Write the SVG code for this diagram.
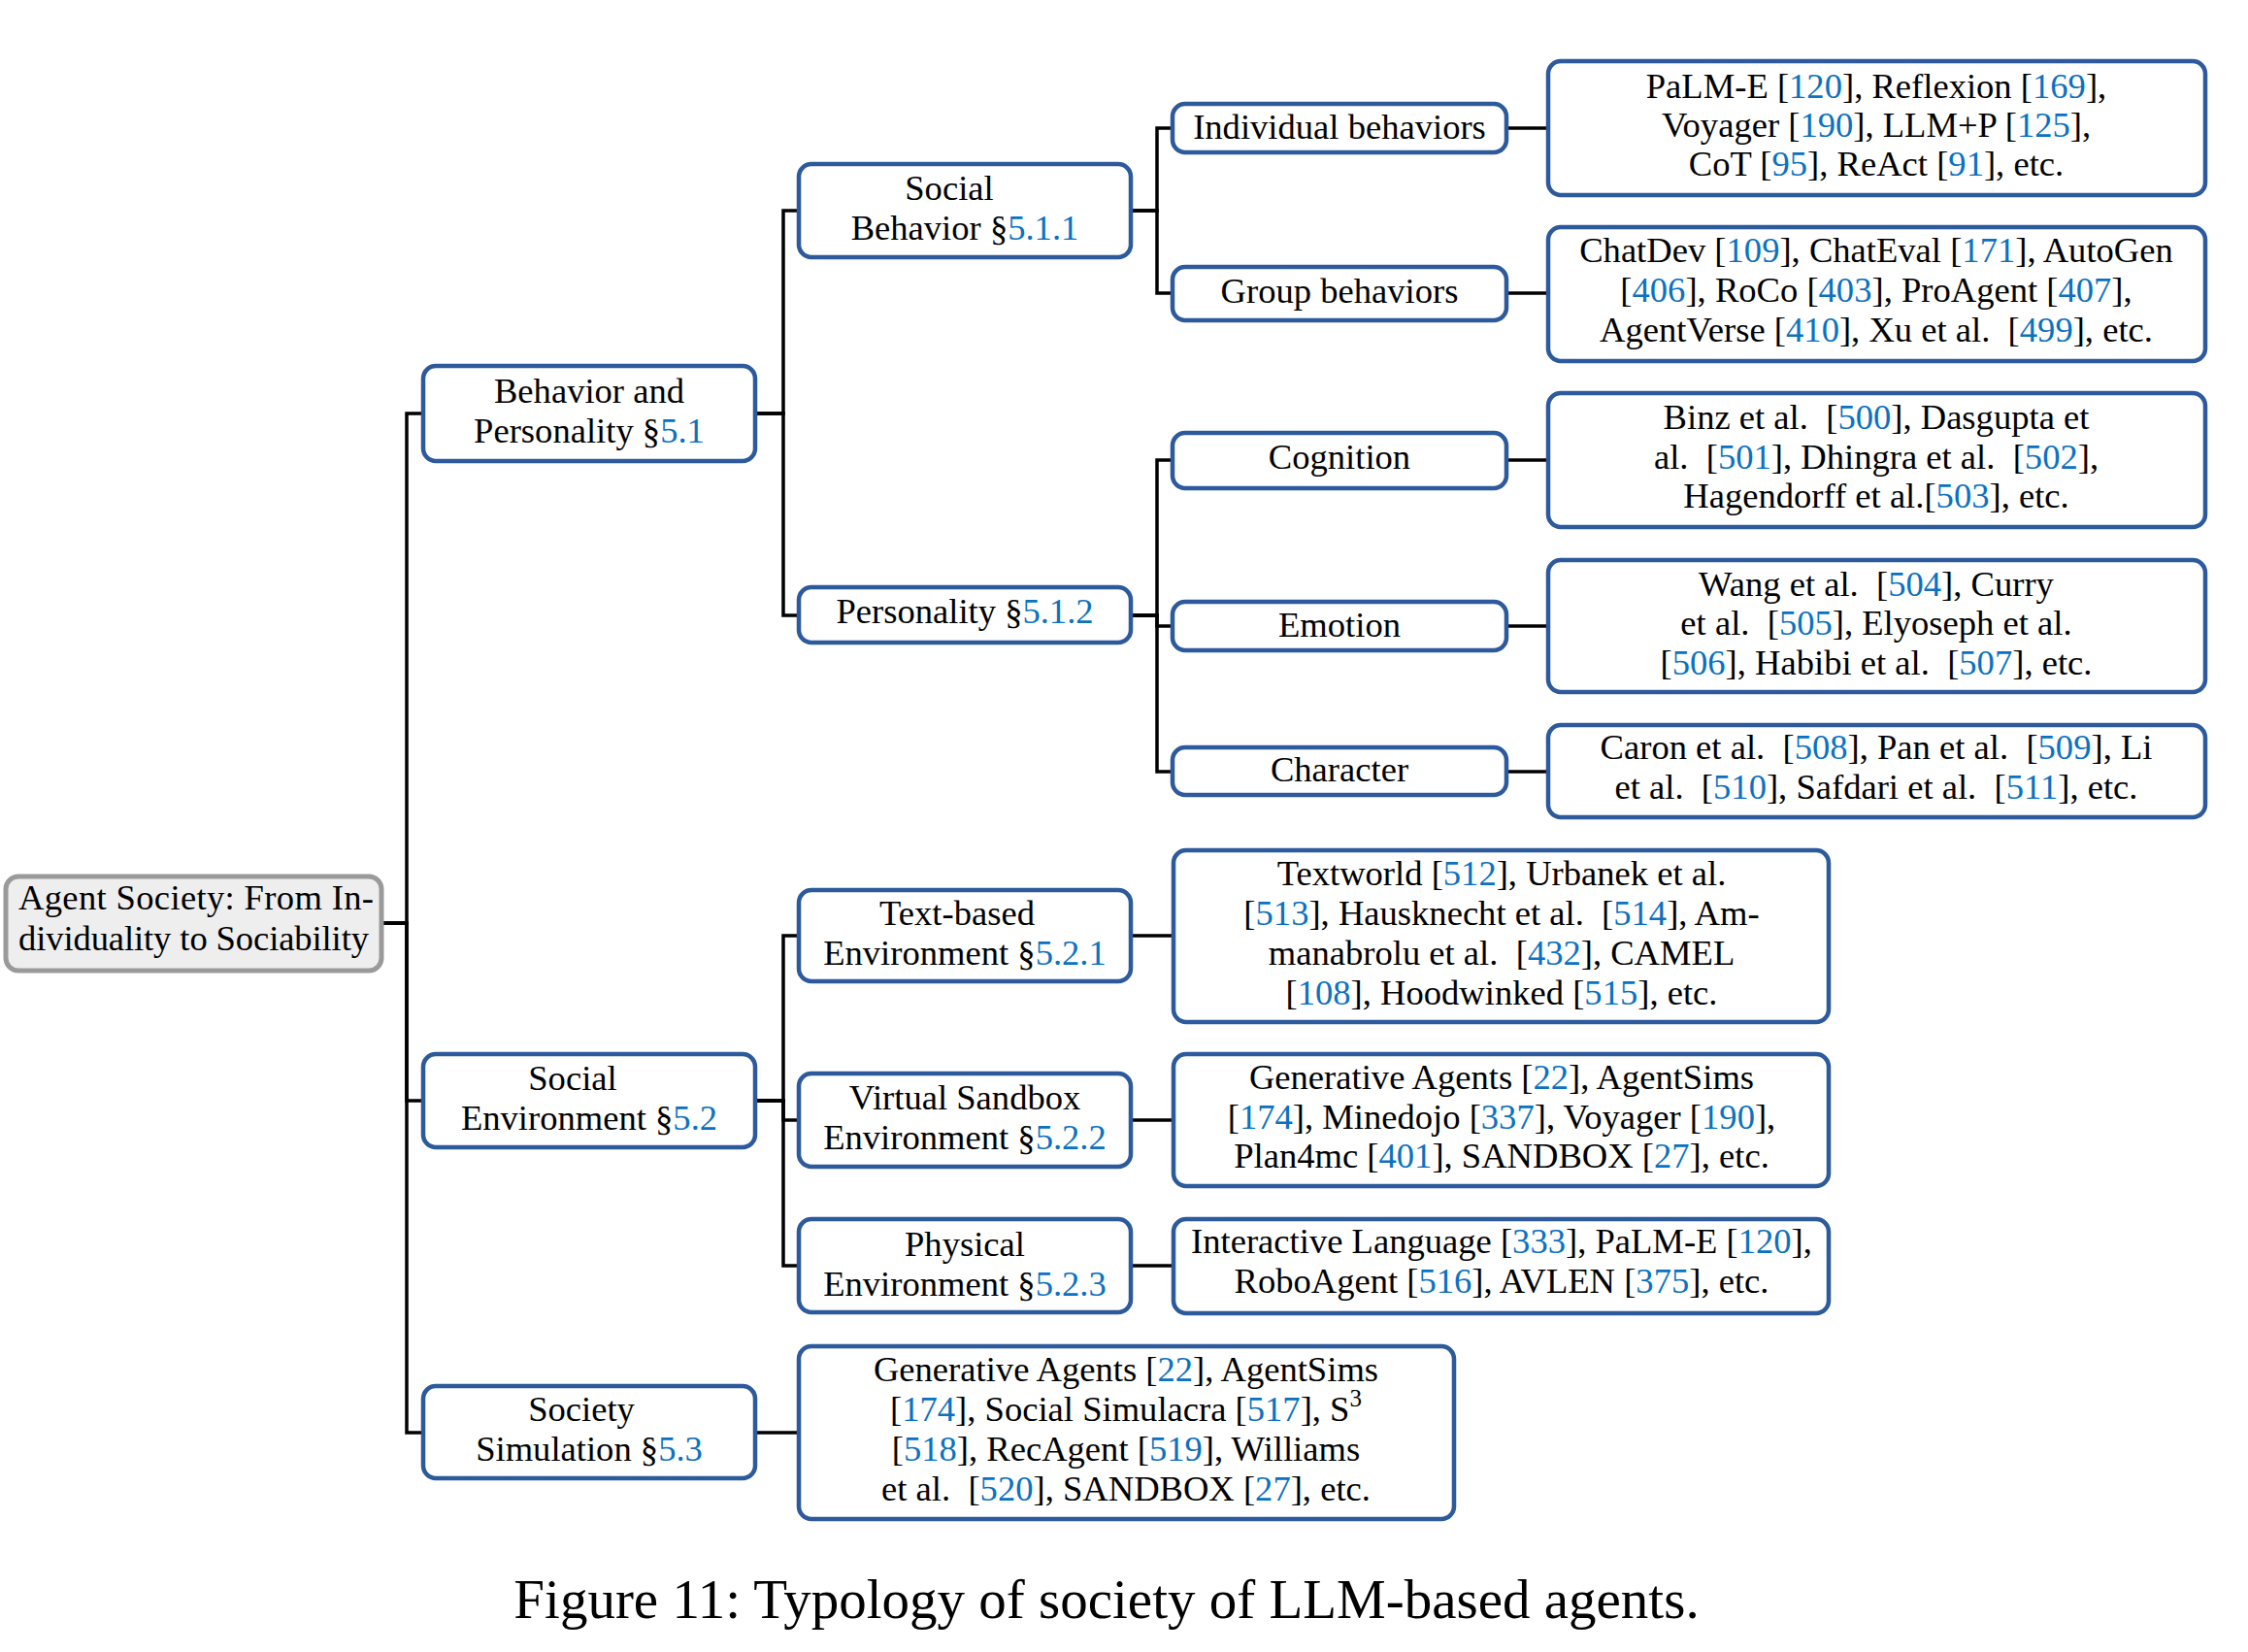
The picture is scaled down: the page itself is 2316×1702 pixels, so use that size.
<svg xmlns="http://www.w3.org/2000/svg" width="2316" height="1702" viewBox="0 0 2316 1702">
<style>
.t{font-family:"Liberation Serif","Times New Roman",serif;font-size:36.6px;fill:#000;text-anchor:middle}
.c{fill:#0a72c0}
.box{fill:#fff;stroke:#2c5a9c;stroke-width:4.5}
.root{fill:#eeeeee;stroke:#9a9a9a;stroke-width:5}
.conn{fill:none;stroke:#000;stroke-width:3.5;stroke-linejoin:miter}
.cap{font-family:"Liberation Serif","Times New Roman",serif;font-size:57px;fill:#000;text-anchor:middle}
</style>
<rect width="2316" height="1702" fill="#fff"/>
<g id="connectors">
<path class="conn" d="M393,951 H419 V426 H436"/>
<path class="conn" d="M393,951 H419 V1134 H436"/>
<path class="conn" d="M393,951 H419 V1476 H436"/>
<path class="conn" d="M778,426 H807 V217 H823"/>
<path class="conn" d="M778,426 H807 V634 H823"/>
<path class="conn" d="M778,1134 H807 V964 H823"/>
<path class="conn" d="M778,1134 H807 V1154 H823"/>
<path class="conn" d="M778,1134 H807 V1304 H823"/>
<path class="conn" d="M778,1476 H823"/>
<path class="conn" d="M1165,217 H1192 V132 H1208"/>
<path class="conn" d="M1165,217 H1192 V302 H1208"/>
<path class="conn" d="M1165,634 H1192 V474 H1208"/>
<path class="conn" d="M1165,634 H1192 V645 H1208"/>
<path class="conn" d="M1165,634 H1192 V795 H1208"/>
<path class="conn" d="M1552,132 H1595"/>
<path class="conn" d="M1552,302 H1595"/>
<path class="conn" d="M1552,474 H1595"/>
<path class="conn" d="M1552,645 H1595"/>
<path class="conn" d="M1552,795 H1595"/>
<path class="conn" d="M1165,964 H1209"/>
<path class="conn" d="M1165,1154 H1209"/>
<path class="conn" d="M1165,1304 H1209"/>
</g>
<g id="root">
<rect class="root" x="6" y="903" width="387" height="97" rx="13"/>
<text class="t" x="19" y="937" style="text-anchor:start" textLength="366" lengthAdjust="spacing">Agent Society: From In-</text>
<text class="t" x="19" y="979" style="text-anchor:start" textLength="361" lengthAdjust="spacing">dividuality to Sociability</text>
</g>
<g id="behavior-personality">
<rect class="box" x="436" y="377" width="342" height="98" rx="13"/>
<text class="t" x="607" y="415">Behavior and</text>
<text class="t" x="607" y="456">Personality §<tspan class="c">5.1</tspan></text>
</g>
<g id="social-environment">
<rect class="box" x="436" y="1086" width="342" height="96" rx="13"/>
<text class="t" x="590" y="1123">Social</text>
<text class="t" x="607" y="1164">Environment §<tspan class="c">5.2</tspan></text>
</g>
<g id="society-simulation">
<rect class="box" x="436" y="1428" width="342" height="95" rx="13"/>
<text class="t" x="599" y="1464">Society</text>
<text class="t" x="607" y="1505">Simulation §<tspan class="c">5.3</tspan></text>
</g>
<g id="social-behavior">
<rect class="box" x="823" y="169" width="342" height="96" rx="13"/>
<text class="t" x="978" y="206">Social</text>
<text class="t" x="994" y="247">Behavior §<tspan class="c">5.1.1</tspan></text>
</g>
<g id="personality">
<rect class="box" x="823" y="605" width="342" height="57" rx="13"/>
<text class="t" x="994" y="642">Personality §<tspan class="c">5.1.2</tspan></text>
</g>
<g id="text-based">
<rect class="box" x="823" y="917" width="342" height="94" rx="13"/>
<text class="t" x="986" y="953">Text-based</text>
<text class="t" x="994" y="994">Environment §<tspan class="c">5.2.1</tspan></text>
</g>
<g id="virtual-sandbox">
<rect class="box" x="823" y="1106" width="342" height="96" rx="13"/>
<text class="t" x="994" y="1143">Virtual Sandbox</text>
<text class="t" x="994" y="1184">Environment §<tspan class="c">5.2.2</tspan></text>
</g>
<g id="physical">
<rect class="box" x="823" y="1256" width="342" height="96" rx="13"/>
<text class="t" x="994" y="1294">Physical</text>
<text class="t" x="994" y="1335">Environment §<tspan class="c">5.2.3</tspan></text>
</g>
<g id="individual-behaviors">
<rect class="box" x="1208" y="107" width="344" height="50" rx="13"/>
<text class="t" x="1380" y="143">Individual behaviors</text>
</g>
<g id="group-behaviors">
<rect class="box" x="1208" y="275" width="344" height="55" rx="13"/>
<text class="t" x="1380" y="312">Group behaviors</text>
</g>
<g id="cognition">
<rect class="box" x="1208" y="446" width="344" height="57" rx="13"/>
<text class="t" x="1380" y="483">Cognition</text>
</g>
<g id="emotion">
<rect class="box" x="1208" y="620" width="344" height="50" rx="13"/>
<text class="t" x="1380" y="656">Emotion</text>
</g>
<g id="character">
<rect class="box" x="1208" y="770" width="344" height="49" rx="13"/>
<text class="t" x="1380" y="805">Character</text>
</g>
<g id="individual-works">
<rect class="box" x="1595" y="63" width="677" height="138" rx="13"/>
<text class="t" x="1933" y="101">PaLM-E [<tspan class="c">120</tspan>], Reflexion [<tspan class="c">169</tspan>],</text>
<text class="t" x="1933" y="141">Voyager [<tspan class="c">190</tspan>], LLM+P [<tspan class="c">125</tspan>],</text>
<text class="t" x="1933" y="181">CoT [<tspan class="c">95</tspan>], ReAct [<tspan class="c">91</tspan>], etc.</text>
</g>
<g id="group-works">
<rect class="box" x="1595" y="234" width="677" height="138" rx="13"/>
<text class="t" x="1933" y="270">ChatDev [<tspan class="c">109</tspan>], ChatEval [<tspan class="c">171</tspan>], AutoGen</text>
<text class="t" x="1933" y="311">[<tspan class="c">406</tspan>], RoCo [<tspan class="c">403</tspan>], ProAgent [<tspan class="c">407</tspan>],</text>
<text class="t" x="1933" y="352">AgentVerse [<tspan class="c">410</tspan>], Xu et al.&#160; [<tspan class="c">499</tspan>], etc.</text>
</g>
<g id="cognition-works">
<rect class="box" x="1595" y="405" width="677" height="138" rx="13"/>
<text class="t" x="1933" y="442">Binz et al.&#160; [<tspan class="c">500</tspan>], Dasgupta et</text>
<text class="t" x="1933" y="483">al.&#160; [<tspan class="c">501</tspan>], Dhingra et al.&#160; [<tspan class="c">502</tspan>],</text>
<text class="t" x="1933" y="523">Hagendorff et al.[<tspan class="c">503</tspan>], etc.</text>
</g>
<g id="emotion-works">
<rect class="box" x="1595" y="577" width="677" height="136" rx="13"/>
<text class="t" x="1933" y="614">Wang et al.&#160; [<tspan class="c">504</tspan>], Curry</text>
<text class="t" x="1933" y="654">et al.&#160; [<tspan class="c">505</tspan>], Elyoseph et al.</text>
<text class="t" x="1933" y="695">[<tspan class="c">506</tspan>], Habibi et al.&#160; [<tspan class="c">507</tspan>], etc.</text>
</g>
<g id="character-works">
<rect class="box" x="1595" y="747" width="677" height="95" rx="13"/>
<text class="t" x="1933" y="782">Caron et al.&#160; [<tspan class="c">508</tspan>], Pan et al.&#160; [<tspan class="c">509</tspan>], Li</text>
<text class="t" x="1933" y="823">et al.&#160; [<tspan class="c">510</tspan>], Safdari et al.&#160; [<tspan class="c">511</tspan>], etc.</text>
</g>
<g id="text-based-works">
<rect class="box" x="1209" y="876" width="675" height="177" rx="13"/>
<text class="t" x="1547" y="912">Textworld [<tspan class="c">512</tspan>], Urbanek et al.</text>
<text class="t" x="1547" y="953">[<tspan class="c">513</tspan>], Hausknecht et al.&#160; [<tspan class="c">514</tspan>], Am-</text>
<text class="t" x="1547" y="994">manabrolu et al.&#160; [<tspan class="c">432</tspan>], CAMEL</text>
<text class="t" x="1547" y="1035">[<tspan class="c">108</tspan>], Hoodwinked [<tspan class="c">515</tspan>], etc.</text>
</g>
<g id="virtual-sandbox-works">
<rect class="box" x="1209" y="1086" width="675" height="136" rx="13"/>
<text class="t" x="1547" y="1122">Generative Agents [<tspan class="c">22</tspan>], AgentSims</text>
<text class="t" x="1547" y="1163">[<tspan class="c">174</tspan>], Minedojo [<tspan class="c">337</tspan>], Voyager [<tspan class="c">190</tspan>],</text>
<text class="t" x="1547" y="1203">Plan4mc [<tspan class="c">401</tspan>], SANDBOX [<tspan class="c">27</tspan>], etc.</text>
</g>
<g id="physical-works">
<rect class="box" x="1209" y="1256" width="675" height="97" rx="13"/>
<text class="t" x="1547" y="1291">Interactive Language [<tspan class="c">333</tspan>], PaLM-E [<tspan class="c">120</tspan>],</text>
<text class="t" x="1547" y="1332">RoboAgent [<tspan class="c">516</tspan>], AVLEN [<tspan class="c">375</tspan>], etc.</text>
</g>
<g id="society-simulation-works">
<rect class="box" x="823" y="1387" width="675" height="178" rx="13"/>
<text class="t" x="1160" y="1423">Generative Agents [<tspan class="c">22</tspan>], AgentSims</text>
<text class="t" x="1160" y="1464">[<tspan class="c">174</tspan>], Social Simulacra [<tspan class="c">517</tspan>], S<tspan dy="-15" font-size="25">3</tspan></text>
<text class="t" x="1160" y="1505">[<tspan class="c">518</tspan>], RecAgent [<tspan class="c">519</tspan>], Williams</text>
<text class="t" x="1160" y="1546">et al.&#160; [<tspan class="c">520</tspan>], SANDBOX [<tspan class="c">27</tspan>], etc.</text>
</g>
<text class="cap" x="1140" y="1667">Figure 11: Typology of society of LLM-based agents.</text>
</svg>
